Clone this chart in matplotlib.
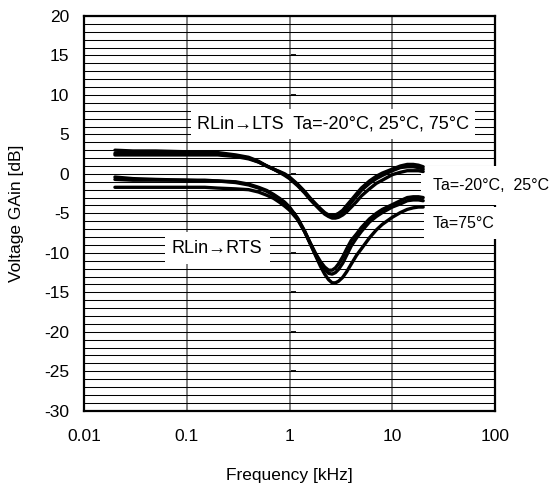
import matplotlib
matplotlib.use("Agg")
import matplotlib.pyplot as plt
import numpy as np

plt.rcParams['font.family'] = ['Liberation Sans', 'DejaVu Sans']
plt.rcParams['axes.unicode_minus'] = False

# Frequency [kHz]
freq = [0.02, 0.03, 0.05, 0.1, 0.15, 0.2, 0.3, 0.4, 0.5, 0.6, 0.7, 0.8, 0.9, 1.0,
        1.2, 1.4, 1.6, 1.8, 2.0, 2.2, 2.4, 2.6, 2.8, 3.0, 3.3, 3.6, 4.0, 4.5, 5.0,
        6.0, 7.0, 8.0, 10, 12, 14, 16, 18, 20]

# RLin -> LTS  [dB]
lts_m20 = [3.0, 2.9, 2.9, 2.8, 2.8, 2.7, 2.4, 2.1, 1.6, 1.0, 0.6, 0.3, 0.0, -0.4,
           -1.3, -2.2, -3.1, -3.8, -4.4, -4.9, -5.2, -5.3, -5.2, -5.0, -4.6, -4.0, -3.3, -2.5, -1.8,
           -0.9, -0.3, 0.1, 0.6, 1.0, 1.2, 1.2, 1.1, 0.9]
lts_25 = [2.6, 2.6, 2.6, 2.6, 2.6, 2.5, 2.3, 2.0, 1.5, 1.0, 0.6, 0.2, -0.1, -0.5,
          -1.4, -2.3, -3.2, -3.9, -4.5, -5.0, -5.3, -5.4, -5.3, -5.1, -4.8, -4.3, -3.6, -2.8, -2.1,
          -1.2, -0.6, -0.2, 0.4, 0.8, 0.9, 0.9, 0.8, 0.6]
lts_75 = [2.4, 2.4, 2.4, 2.4, 2.4, 2.4, 2.2, 1.9, 1.5, 1.0, 0.6, 0.2, -0.2, -0.6,
          -1.5, -2.4, -3.3, -4.0, -4.6, -5.1, -5.4, -5.6, -5.6, -5.5, -5.2, -4.8, -4.2, -3.5, -2.8,
          -1.9, -1.2, -0.8, -0.1, 0.2, 0.4, 0.4, 0.4, 0.3]

# RLin -> RTS  [dB]
rts_m20 = [-0.4, -0.6, -0.7, -0.8, -0.8, -0.9, -1.0, -1.3, -1.7, -2.1, -2.6, -3.1, -3.6, -4.2,
           -5.6, -7.2, -8.8, -10.1, -11.1, -11.8, -12.2, -12.2, -11.9, -11.4, -10.5, -9.5, -8.4, -7.6, -6.8,
           -5.7, -5.0, -4.5, -3.9, -3.4, -3.0, -2.9, -2.9, -3.0]
rts_25 = [-0.7, -0.8, -0.8, -0.8, -0.9, -0.9, -1.1, -1.4, -1.8, -2.2, -2.7, -3.2, -3.7, -4.3,
          -5.7, -7.3, -8.9, -10.3, -11.4, -12.1, -12.6, -12.7, -12.5, -12.1, -11.3, -10.3, -9.1, -8.1, -7.3,
          -6.1, -5.4, -4.9, -4.2, -3.8, -3.4, -3.3, -3.3, -3.4]
rts_75 = [-1.7, -1.7, -1.7, -1.7, -1.7, -1.8, -1.9, -2.0, -2.3, -2.7, -3.1, -3.6, -4.1, -4.6,
          -5.8, -7.3, -8.9, -10.4, -11.7, -12.7, -13.4, -13.8, -13.8, -13.6, -13.1, -12.4, -11.4, -10.3, -9.5,
          -8.1, -7.1, -6.4, -5.5, -4.9, -4.5, -4.3, -4.2, -4.2]

x_ticks = [0.01, 0.1, 1, 10, 100]
x_ticklabels = ['0.01', '0.1', '1', '10', '100']
y_ticks = [-30, -25, -20, -15, -10, -5, 0, 5, 10, 15, 20]
y_ticklabels = ['-30', '-25', '-20', '-15', '-10', '-5', '0', '5', '10', '15', '20']

fig = plt.figure(figsize=(5.5, 4.88), dpi=100)
ax = fig.add_axes([84/550, 1-410.7/488, 411/550, (410.7-16)/488])

ax.set_xscale('log')
ax.set_xlim(0.01, 100)
ax.set_ylim(-30, 20)

# grid
ax.set_axisbelow(True)
ax.set_yticks(np.arange(-30, 21, 1), minor=True)
ax.xaxis.set_minor_locator(matplotlib.ticker.NullLocator())
ax.grid(True, which='minor', axis='y', color='black', lw=0.75)
ax.grid(True, which='major', axis='y', color='black', lw=0.75)
ax.grid(True, which='major', axis='x', color='#808080', lw=1.4)

ax.set_xticks(x_ticks)
ax.set_xticklabels(x_ticklabels)
ax.set_yticks(y_ticks)
ax.set_yticklabels(y_ticklabels)
ax.tick_params(which='both', length=0)
ax.tick_params(axis='y', pad=10.5, labelsize=12.5)
ax.tick_params(axis='x', pad=13, labelsize=12.5)

for s in ax.spines.values():
    s.set_linewidth(1.6)
    s.set_color('black')

# small ticks on the 1 kHz line
sec = ax.secondary_yaxis(0.5)
sec.spines['right'].set_visible(False)
sec.spines['left'].set_visible(False)
sec.set_yticks(y_ticks)
sec.tick_params(direction='out', length=4.5, width=1.3, color='black',
                labelright=False, labelleft=False)

for series in [lts_m20, lts_25, lts_75, rts_m20, rts_25, rts_75]:
    ax.plot(freq, series, color='black', lw=2.4, zorder=4, solid_capstyle='round')

ax.set_xlabel('Frequency [kHz]', fontsize=12.5)
ax.set_ylabel('Voltage GAin [dB]', fontsize=12.5)
ax.xaxis.set_label_coords(0.5, -0.145)
ax.yaxis.set_label_coords(-0.145, 0.5)

tx = ax.transAxes
ax.text(0.275, 0.726, 'RLin\u2192LTS  Ta=-20°C, 25°C, 75°C', transform=tx, fontsize=13,
        ha='left', va='center', zorder=3,
        bbox=dict(facecolor='white', edgecolor='none', boxstyle='square,pad=0.35'))
ax.text(0.214, 0.412, 'RLin\u2192RTS', transform=tx, fontsize=13,
        ha='left', va='center', zorder=3,
        bbox=dict(facecolor='white', edgecolor='none', boxstyle='square,pad=0.4'))
ax.text(0.849, 0.571, 'Ta=-20°C,  25°C', transform=tx, fontsize=11.5,
        ha='left', va='center', zorder=3, clip_on=False,
        bbox=dict(facecolor='white', edgecolor='none', boxstyle='square,pad=0.75'))
ax.text(0.849, 0.4755, 'Ta=75°C', transform=tx, fontsize=11.5,
        ha='left', va='center', zorder=3, clip_on=False,
        bbox=dict(facecolor='white', edgecolor='none', boxstyle='square,pad=0.55'))

fig.savefig('out.png', dpi=100)
